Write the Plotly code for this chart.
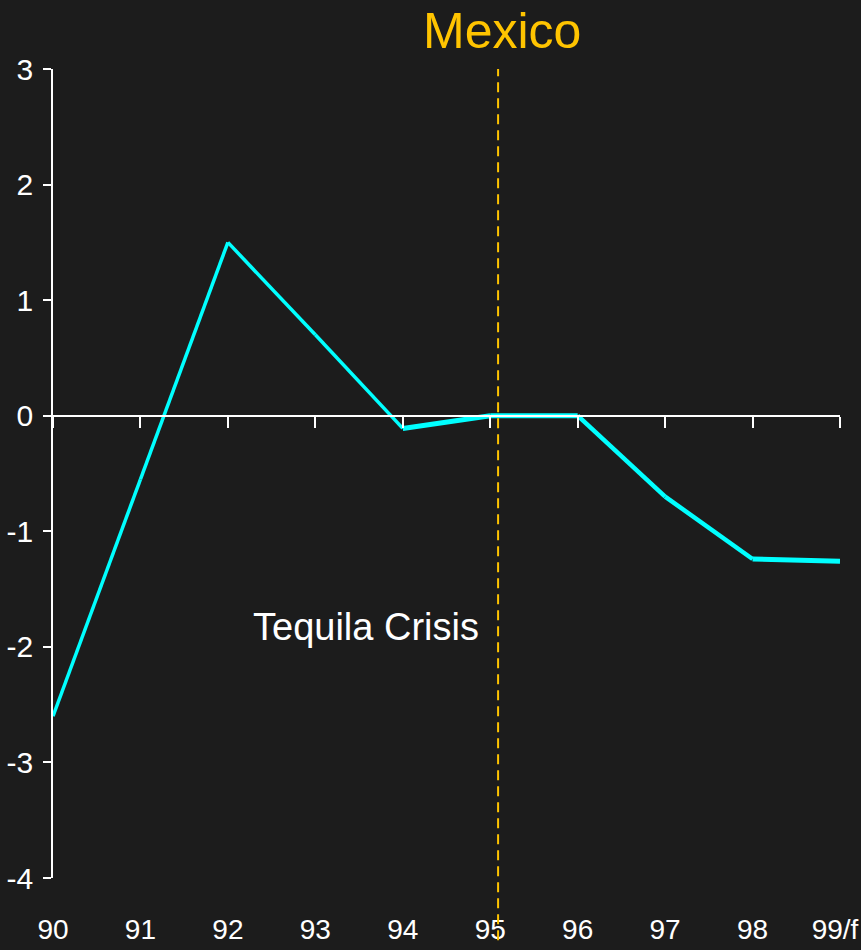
import plotly.graph_objects as go

# Mexico: annual values, 1990 to 1999 forecast
years = ["90", "91", "92", "93", "94", "95", "96", "97", "98", "99/f"]
values = [-2.6, -0.55, 1.5, 0.7, -0.11, 0.0, 0.0, -0.7, -1.24, -1.26]

y_ticks = [-4, -3, -2, -1, 0, 1, 2, 3]
y_tick_text = ["-4", "-3", "-2", "-1", "0", "1", "2", "3"]

crisis_pos = 5.09  # position of the crisis marker on the category axis
crisis_label = "Tequila Crisis"

BG = "#1c1c1c"
CYAN = "#00ffff"
GOLD = "#ffc400"
TICKFONT = "Liberation Sans Narrow, Arial Narrow, Liberation Sans, Arial, sans-serif"
SANS = "Liberation Sans, Arial, sans-serif"

x_idx = list(range(len(years)))
n_last = len(years) - 1

# stroke width of each segment between consecutive years
seg_widths = [3.5, 3.5, 3.5, 3.5, 5, 5, 4.5, 4.5, 5]

fig = go.Figure()
for i, w in enumerate(seg_widths):
    fig.add_trace(go.Scatter(
        x=x_idx[i:i + 2], y=values[i:i + 2], mode="lines",
        line=dict(color=CYAN, width=w), showlegend=False, hoverinfo="skip",
        cliponaxis=False,
    ))

# invisible traces hosting the zero-line axis and the right-edge label axis
for ax in ("x2", "x3"):
    fig.add_trace(go.Scatter(x=[0, n_last], y=[0, 0], mode="lines", xaxis=ax,
                             line=dict(width=0), showlegend=False, hoverinfo="skip"))

y_min, y_max = -4, 3
zero_frac = (0 - y_min) / (y_max - y_min)

label_axis = dict(
    range=[0, n_last], showline=False, showgrid=False, zeroline=False, ticks="",
    tickfont=dict(family=TICKFONT, size=28, color="white"),
    ticklabelstandoff=32, ticklabeloverflow="allow", automargin=False,
)

fig.update_layout(
    width=861, height=950,
    paper_bgcolor=BG, plot_bgcolor=BG,
    margin=dict(l=53, r=21, t=69, b=72, autoexpand=False),
    xaxis=dict(tickvals=x_idx[:-1], ticktext=years[:-1], **label_axis),
    # the last year label sits against the page edge, so nudge it inward
    xaxis3=dict(tickvals=x_idx[-1:], ticktext=years[-1:], overlaying="x",
                anchor="y", side="bottom", ticklabelshift=-5, **label_axis),
    xaxis2=dict(
        range=[0, n_last], overlaying="x", anchor="free", position=zero_frac,
        side="bottom", tickvals=x_idx, showticklabels=False,
        showline=True, linecolor="white", linewidth=2,
        ticks="outside", ticklen=11, tickcolor="white", tickwidth=1.5,
        showgrid=False, zeroline=False, automargin=False,
    ),
    yaxis=dict(
        range=[y_min, y_max], tickvals=y_ticks, ticktext=y_tick_text,
        showline=True, linecolor="white", linewidth=1.5,
        ticks="outside", ticklen=8, tickcolor="white", tickwidth=1.5,
        showgrid=False, zeroline=False, automargin=False,
        tickfont=dict(family=TICKFONT, size=30, color="white"),
        ticklabelstandoff=4,
    ),
    shapes=[dict(
        type="line", xref="paper", yref="paper",
        x0=crisis_pos / n_last, x1=crisis_pos / n_last,
        y0=-0.077, y1=1.0,
        line=dict(color=GOLD, width=2, dash="10px,6px"),
    )],
    annotations=[
        dict(text="Mexico", xref="paper", yref="paper",
             x=(502 - 53) / 787, y=1.0, yshift=38, showarrow=False,
             xanchor="center", yanchor="middle",
             font=dict(family=SANS, size=50, color=GOLD)),
        dict(text=crisis_label, xref="x", yref="y",
             x=crisis_pos, xshift=-17, y=-1.83, showarrow=False,
             xanchor="right", yanchor="middle",
             font=dict(family=SANS, size=38, color="white")),
    ],
)

fig.write_html("out.html")
